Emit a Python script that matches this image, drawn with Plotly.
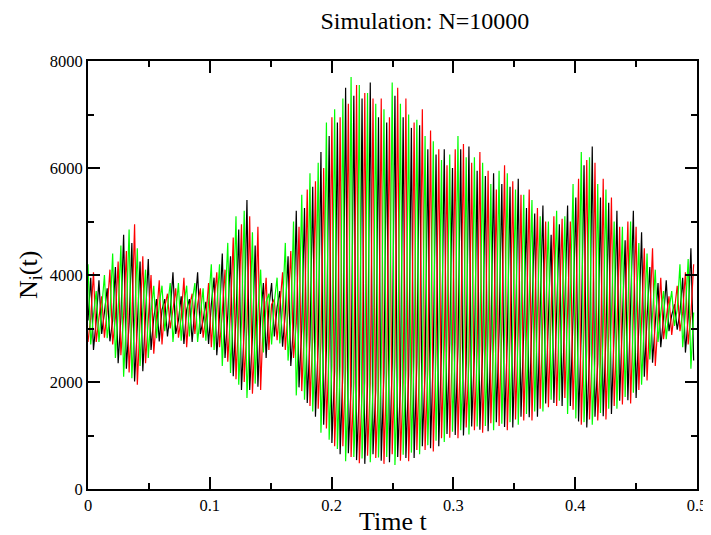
import plotly.graph_objects as go

# time samples (t)
t = [
    0, 0.00225, 0.0045, 0.00675,
    0.009, 0.01125, 0.0135, 0.01575,
    0.018, 0.02025, 0.0225, 0.02475,
    0.027, 0.02925, 0.0315, 0.03375,
    0.036, 0.03825, 0.0405, 0.04275,
    0.045, 0.04725, 0.0495, 0.05175,
    0.054, 0.05625, 0.0585, 0.06075,
    0.063, 0.06525, 0.0675, 0.06975,
    0.072, 0.07425, 0.0765, 0.07875,
    0.081, 0.08325, 0.0855, 0.08775,
    0.09, 0.09225, 0.0945, 0.09675,
    0.099, 0.10125, 0.1035, 0.10575,
    0.108, 0.11025, 0.1125, 0.11475,
    0.117, 0.11925, 0.1215, 0.12375,
    0.126, 0.12825, 0.1305, 0.13275,
    0.135, 0.13725, 0.1395, 0.14175,
    0.144, 0.14625, 0.1485, 0.15075,
    0.153, 0.15525, 0.1575, 0.15975,
    0.162, 0.16425, 0.1665, 0.16875,
    0.171, 0.17325, 0.1755, 0.17775,
    0.18, 0.18225, 0.1845, 0.18675,
    0.189, 0.19125, 0.1935, 0.19575,
    0.198, 0.20025, 0.2025, 0.20475,
    0.207, 0.20925, 0.2115, 0.21375,
    0.216, 0.21825, 0.2205, 0.22275,
    0.225, 0.22725, 0.2295, 0.23175,
    0.234, 0.23625, 0.2385, 0.24075,
    0.243, 0.24525, 0.2475, 0.24975,
    0.252, 0.25425, 0.2565, 0.25875,
    0.261, 0.26325, 0.2655, 0.26775,
    0.27, 0.27225, 0.2745, 0.27675,
    0.279, 0.28125, 0.2835, 0.28575,
    0.288, 0.29025, 0.2925, 0.29475,
    0.297, 0.29925, 0.3015, 0.30375,
    0.306, 0.30825, 0.3105, 0.31275,
    0.315, 0.31725, 0.3195, 0.32175,
    0.324, 0.32625, 0.3285, 0.33075,
    0.333, 0.33525, 0.3375, 0.33975,
    0.342, 0.34425, 0.3465, 0.34875,
    0.351, 0.35325, 0.3555, 0.35775,
    0.36, 0.36225, 0.3645, 0.36675,
    0.369, 0.37125, 0.3735, 0.37575,
    0.378, 0.38025, 0.3825, 0.38475,
    0.387, 0.38925, 0.3915, 0.39375,
    0.396, 0.39825, 0.4005, 0.40275,
    0.405, 0.40725, 0.4095, 0.41175,
    0.414, 0.41625, 0.4185, 0.42075,
    0.423, 0.42525, 0.4275, 0.42975,
    0.432, 0.43425, 0.4365, 0.43875,
    0.441, 0.44325, 0.4455, 0.44775,
    0.45, 0.45225, 0.4545, 0.45675,
    0.459, 0.46125, 0.4635, 0.46575,
    0.468, 0.47025, 0.4725, 0.47475,
    0.477, 0.47925, 0.4815, 0.48375,
    0.486, 0.48825, 0.4905, 0.49275,
    0.495, 0.49725,
]

n_black = [
    3150,
    3950, 2600, 3150, 3900, 2900, 3300, 3750, 2760, 3150, 4150, 2350, 3200,
    4750, 2250, 3100, 4600, 2010, 3050, 4250, 2200, 3250, 4300, 2600, 3200,
    3550, 2760, 3350, 3550, 2850, 3300, 4050, 2900, 3150, 3600, 2710, 3350,
    3550, 2750, 3400, 4050, 2900, 3150, 3500, 2710, 3450, 3950, 2500, 3250,
    4400, 2450, 3250, 4350, 2110, 3200, 4850, 1850, 3000, 5400, 1850, 2850,
    4550, 1910, 3200, 3850, 2450, 3400, 3850, 2850, 3400, 3700, 2660, 3300,
    4350, 2300, 3050, 5200, 1900, 3000, 5250, 1610, 2800, 5650, 1350, 2700,
    6300, 1200, 2600, 6600, 860, 2200, 6850, 650, 2200, 7500, 670, 1930,
    7350, 540, 1770, 7300, 470, 1930, 7600, 650, 1850, 6950, 530, 2180,
    6850, 500, 2350, 7350, 600, 1950, 6950, 580, 2130, 6750, 580, 2370,
    6800, 800, 2200, 6350, 760, 2550, 6250, 800, 2650, 6350, 1030, 2720,
    6000, 1010, 2650, 6350, 1000, 2350, 6400, 1170, 2530, 5950, 1110, 2600,
    5850, 1080, 2770, 5900, 1250, 2950, 5700, 1160, 2800, 5650, 1150, 2900,
    5800, 1350, 2950, 5250, 1340, 3070, 5150, 1350, 3200, 5300, 1600, 3200,
    4750, 1610, 3300, 4950, 1550, 3200, 5300, 1550, 3250, 5450, 1260, 2950,
    6050, 1150, 2500, 6400, 1350, 2350, 5450, 1360, 2850, 5350, 1400, 2950,
    5200, 1650, 3250, 4650, 1660, 3350, 5200, 1700, 3050, 4800, 2100, 3200,
    4150, 2360, 3150, 3850, 2650, 3200, 3900, 2950, 3250, 3450, 2980, 3300,
    3950, 2550, 3200, 4500, 2400,
]

n_red = [
    2750, 3200,
    4050, 2750, 3200, 3600, 2830, 3350, 4100, 2700, 3200, 4250, 2500, 3250,
    4450, 2180, 3150, 4950, 1950, 3100, 4350, 2350, 3300, 4000, 2530, 3250,
    3900, 2700, 3400, 3650, 3000, 3350, 3750, 2830, 3200, 3950, 2650, 3400,
    3650, 2900, 3450, 3750, 2830, 3200, 3850, 2650, 3500, 4050, 2650, 3300,
    4100, 2380, 3300, 4700, 2050, 3250, 4950, 2000, 3050, 5100, 1780, 2900,
    4900, 1850, 3250, 3950, 2600, 3450, 3550, 2780, 3450, 4050, 2600, 3350,
    4450, 2450, 3100, 4900, 1830, 3050, 5600, 1550, 2850, 5750, 1500, 2750,
    6000, 1130, 2650, 6950, 800, 2250, 6950, 800, 2250, 7200, 600, 1980,
    7550, 480, 1820, 7400, 620, 1980, 7300, 580, 1900, 7300, 470, 2230,
    6950, 650, 2400, 7500, 530, 2000, 7300, 520, 2180, 6850, 730, 2420,
    7100, 730, 2250, 6700, 700, 2600, 6350, 950, 2700, 6050, 960, 2770,
    6350, 950, 2700, 6450, 1150, 2400, 6100, 1100, 2580, 6300, 1050, 2650,
    5950, 1230, 2820, 5600, 1180, 3000, 6050, 1100, 2850, 5750, 1300, 2950,
    5500, 1280, 3000, 5600, 1280, 3120, 5250, 1500, 3250, 5000, 1530, 3250,
    5100, 1550, 3350, 5050, 1700, 3250, 5000, 1480, 3300, 5800, 1200, 3000,
    6150, 1300, 2550, 6100, 1280, 2400, 5800, 1300, 2900, 5450, 1550, 3000,
    4900, 1580, 3300, 5000, 1600, 3400, 4900, 1850, 3100, 4500, 2030, 3250,
    4500, 2300, 3200, 3950, 2800, 3250, 3600, 2880, 3300, 3800, 2950, 3300,
    4050, 2700, 3250, 4200,
]

n_green = [
    4200, 2700, 3250, 3700, 2750, 3400, 4000, 2820, 3250, 4400, 2450, 3300,
    4550, 2100, 3200, 4850, 2070, 3150, 4500, 2300, 3350, 4100, 2450, 3300,
    3800, 2820, 3450, 3800, 2950, 3400, 3850, 2750, 3250, 3850, 2770, 3450,
    3800, 2850, 3500, 3850, 2750, 3250, 3750, 2770, 3550, 4200, 2600, 3350,
    4200, 2300, 3350, 4600, 2170, 3300, 5100, 1950, 3100, 5200, 1700, 2950,
    4800, 1970, 3300, 4100, 2550, 3500, 3650, 2700, 3500, 3950, 2720, 3400,
    4600, 2400, 3150, 5000, 1750, 3100, 5500, 1670, 2900, 5900, 1450, 2800,
    6100, 1050, 2700, 6850, 920, 2300, 7100, 750, 2300, 7300, 520, 2030,
    7700, 600, 1870, 7550, 570, 2030, 7400, 500, 1950, 7200, 590, 2280,
    7100, 600, 2450, 7600, 450, 2050, 7200, 640, 2230, 7000, 680, 2470,
    6900, 650, 2300, 6600, 820, 2650, 6500, 900, 2750, 6150, 880, 2820,
    6250, 1070, 2750, 6600, 1100, 2450, 6200, 1020, 2630, 6200, 1170, 2700,
    6100, 1180, 2870, 5700, 1100, 3050, 5950, 1220, 2900, 5900, 1250, 3000,
    5600, 1200, 3050, 5500, 1400, 3170, 5400, 1450, 3300, 5100, 1450, 3300,
    5000, 1670, 3400, 5200, 1650, 3300, 5100, 1400, 3350, 5700, 1320, 3050,
    6300, 1250, 2600, 6200, 1200, 2450, 5700, 1420, 2950, 5600, 1500, 3050,
    5000, 1500, 3350, 4900, 1720, 3450, 5000, 1800, 3150, 4600, 1950, 3300,
    4400, 2420, 3250, 4100, 2750, 3300, 3700, 2800, 3350, 3700, 3050, 3350,
    4200, 2650, 3300, 4300, 2250, 3300,
]

x_tick_vals = [0, 0.1, 0.2, 0.3, 0.4, 0.5]
x_tick_text = ["0", "0.1", "0.2", "0.3", "0.4", "0.5"]
y_tick_vals = [0, 2000, 4000, 6000, 8000]
y_tick_text = ["0", "2000", "4000", "6000", "8000"]

series = [("N1", n_black, "#000000"), ("N2", n_red, "#ff0000"), ("N3", n_green, "#00ff00")]

fig = go.Figure()
for name, ys, col in series:
    fig.add_trace(go.Scatter(x=t, y=ys, mode="lines", name=name,
                             line=dict(color=col, width=1.2), showlegend=False))

serif = "Liberation Serif, Times New Roman, serif"
axis_common = dict(
    showline=True, linecolor="#000000", linewidth=2, mirror="ticks",
    ticks="inside", ticklen=12, tickwidth=1.5, tickcolor="#000000",
    showgrid=False, zeroline=False, automargin=False,
    tickfont=dict(family=serif, size=16.5, color="#000000"),
)

# the page body adds an 8 px offset, so the figure is 8 px smaller
fig.update_layout(
    width=703, height=527,
    margin=dict(l=80, r=14, t=53, b=46, autoexpand=False),
    paper_bgcolor="#ffffff", plot_bgcolor="#ffffff",
    title=dict(text="Simulation: N=10000", x=0.593, xref="container", xanchor="center",
               y=0.977, yref="container", yanchor="middle",
               font=dict(family=serif, size=24, color="#000000")),
    xaxis=dict(range=[0, 0.5], tickvals=x_tick_vals, ticktext=x_tick_text,
               minor=dict(ticks="inside", ticklen=6, dtick=0.05, tickcolor="#000000", showgrid=False),
               **axis_common),
    yaxis=dict(range=[0, 8000], tickvals=y_tick_vals, ticktext=y_tick_text,
               minor=dict(ticks="inside", ticklen=6, dtick=1000, tickcolor="#000000", showgrid=False),
               **axis_common),
    annotations=[
        dict(text="Time t", xref="paper", yref="paper", x=0.5, y=0,
             xanchor="center", yanchor="top", yshift=-16, showarrow=False,
             font=dict(family=serif, size=26, color="#000000")),
        dict(text="N<sub>i</sub>(t)", xref="paper", yref="paper", x=0, y=0.5,
             xanchor="center", yanchor="middle", xshift=-58, textangle=-90, showarrow=False,
             font=dict(family=serif, size=26, color="#000000")),
    ],
)

fig.write_html("out.html")
